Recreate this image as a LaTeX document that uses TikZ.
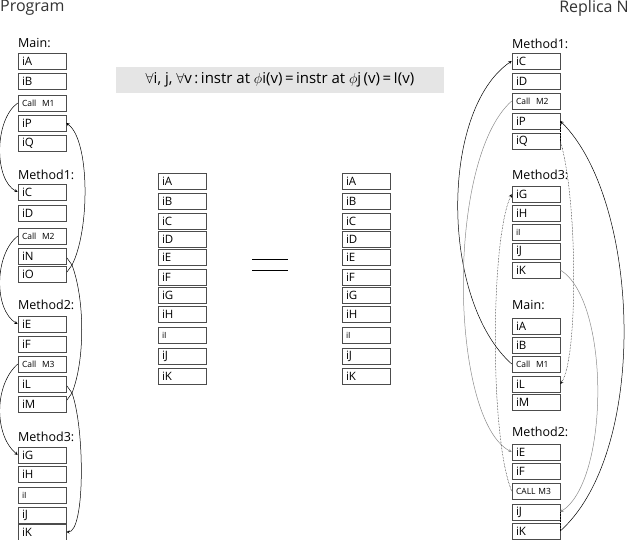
\documentclass[tikz,border=0pt]{standalone}
\usepackage{fontspec}
\setmainfont{Open Sans}
\begin{document}
\begin{tikzpicture}[x=1pt,y=-1pt,
 bx/.style={draw=black!70,minimum width=48pt,minimum height=16pt,inner sep=0pt,text width=40pt,align=left,font=\fontsize{11.5}{11.5}\selectfont,line width=0.6pt},
 sm/.style={bx,font=\fontsize{8.5}{8.5}\selectfont},
 lb/.style={anchor=west,font=\fontsize{12.5}{12.5}\selectfont,inner sep=0pt},
 ar/.style={->,>=stealth,line width=0.5pt},
 ga/.style={ar,draw=black!45},
 da/.style={ar,densely dotted}]
\useasboundingbox (0,0) rectangle (629,540);
\node[anchor=west,font=\fontsize{16}{16}\selectfont,text=black!80,inner sep=0pt] (t1) at (0,8) {Program};
\node[anchor=east,font=\fontsize{16}{16}\selectfont,text=black!80,inner sep=0pt] (t2) at (629,8) {Replica N};
\node[fill=black!10,minimum width=328pt,minimum height=26pt,inner sep=0pt,font=\fontsize{15}{15}\selectfont] (f) at (280,80) {$\forall$i, j, $\forall$v\,:\,instr at $\phi$i(v)\,=\,instr at $\phi$j\,(v)\,=\,I(v)};
% left column
\def\LX{42}
\node[lb] (lm) at (18,43) {Main:};
\node[bx] (LA) at (\LX,61) {iA};
\node[bx] (LB) at (\LX,81) {iB};
\node[sm] (LC1) at (\LX,103) {Call\ \ M1};
\node[bx] (LP) at (\LX,123) {iP};
\node[bx] (LQ) at (\LX,143) {iQ};
\node[lb] (lm1) at (18,175) {Method1:};
\node[bx] (LCc) at (\LX,192) {iC};
\node[bx] (LD) at (\LX,213) {iD};
\node[sm] (LC2) at (\LX,236) {Call\ \ M2};
\node[bx] (LN) at (\LX,256) {iN};
\node[bx] (LO) at (\LX,274) {iO};
\node[lb] (lm2) at (18,305) {Method2:};
\node[bx] (LE) at (\LX,324) {iE};
\node[bx] (LF) at (\LX,344) {iF};
\node[sm] (LC3) at (\LX,364) {Call\ \ M3};
\node[bx] (LL) at (\LX,384) {iL};
\node[bx] (LM) at (\LX,404) {iM};
\node[lb] (lm3) at (18,437) {Method3:};
\node[bx] (LG) at (\LX,455) {iG};
\node[bx] (LH) at (\LX,474) {iH};
\node[sm] (LI) at (\LX,495) {iI};
\node[bx] (LJ) at (\LX,515) {iJ};
\node[bx] (LK) at (\LX,532) {iK};
\draw[ar] (LC1.west) .. controls (-6,120) and (-6,180) .. (LCc.west);
\draw[ar] (LC2.west) .. controls (-6,255) and (-6,310) .. (LE.west);
\draw[ar] (LC3.west) .. controls (-6,385) and (-6,435) .. (LG.west);
\coordinate (x1) at (67,258); \coordinate (x1b) at (67,272);
\coordinate (x2) at (67,386); \coordinate (x2b) at (67,400);
\draw[ar] (x1b) -- (72,265) .. controls (90,230) and (90,140) .. (LP.east);
\draw[line width=0.5pt] (x1) -- (72,265) .. controls (85,300) and (85,360) .. (72,393) -- (x2b);
\draw[ar] (x2) -- (72,393) .. controls (85,430) and (85,532) .. (LK.east);
% middle columns
\foreach \n/\t/\y in {A/iA/181,B/iB/201,C/iC/221,D/iD/239,E/iE/257,F/iF/277,G/iG/295,H/iH/314,J/iJ/356,K/iK/376}{
 \node[bx] (M\n) at (182,\y) {\t};
 \node[bx] (N\n) at (366,\y) {\t};}
\node[sm] (MI) at (182,335) {iI};
\node[sm] (NI) at (366,335) {iI};
\coordinate (e1) at (252,259); \coordinate (e2) at (288,259);
\coordinate (e3) at (252,270); \coordinate (e4) at (288,270);
\draw[line width=1pt] (e1) -- (e2) (e3) -- (e4);
% right column
\def\RX{536}
\node[lb] (rm1) at (512,44) {Method1:};
\node[bx] (RC) at (\RX,61) {iC};
\node[bx] (RD) at (\RX,81) {iD};
\node[sm] (RC2) at (\RX,101) {Call\ \ M2};
\node[bx] (RP) at (\RX,121) {iP};
\node[bx] (RQ) at (\RX,141) {iQ};
\node[lb] (rm3) at (512,175) {Method3:};
\node[bx] (RG) at (\RX,194) {iG};
\node[bx] (RH) at (\RX,213) {iH};
\node[sm] (RI) at (\RX,232) {iI};
\node[bx] (RJ) at (\RX,251) {iJ};
\node[bx] (RK) at (\RX,270) {iK};
\node[lb] (rm) at (512,305) {Main:};
\node[bx] (RA) at (\RX,326) {iA};
\node[bx] (RB) at (\RX,345) {iB};
\node[sm] (RC1) at (\RX,364) {Call\ \ M1};
\node[bx] (RL) at (\RX,384) {iL};
\node[bx] (RM) at (\RX,402) {iM};
\node[lb] (rm2) at (512,432) {Method2:};
\node[bx] (RE) at (\RX,452) {iE};
\node[bx] (RF) at (\RX,471) {iF};
\node[sm] (RC3) at (\RX,491) {CALL M3};
\node[bx] (RJ2) at (\RX,512) {iJ};
\node[bx] (RK2) at (\RX,531) {iK};
\draw[ar] (RC1.west) .. controls (440,300) and (440,110) .. (RC.west);
\draw[ga] (RC2.west) .. controls (445,160) and (450,420) .. (RE.west);
\draw[da] (RC3.west) .. controls (490,440) and (490,240) .. (RG.west);
\draw[da] (RQ.east) .. controls (578,200) and (578,360) .. (RL.east);
\draw[ga] (RK.east) .. controls (610,300) and (610,480) .. (RJ2.east);
\draw[ar] (RK2.east) .. controls (650,450) and (640,200) .. (RP.east);
\draw[densely dotted,line width=0.5pt] (RP.east) -- (RQ.east);
\draw[densely dotted,line width=0.5pt] (RJ2.east) -- (RK2.east);
\end{tikzpicture}
\end{document}
